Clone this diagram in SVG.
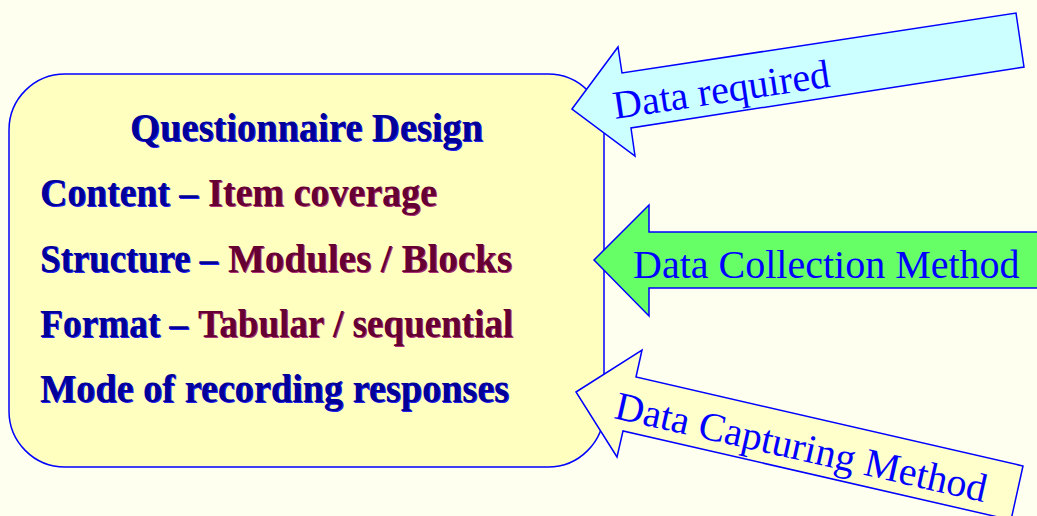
<svg xmlns="http://www.w3.org/2000/svg" width="1037" height="516" viewBox="0 0 1037 516">
<style>
.bg{fill:#FFFFF0}
.box{fill:#FFFFC0;stroke:#0000FF;stroke-width:1.5}
.arr{stroke:#0000FF;stroke-width:1.5;stroke-linejoin:miter}
.h{font-family:'Liberation Serif',serif;font-weight:bold;font-size:40px}
.sb{fill:#2222EE}
.mb{fill:#000099}
.sm{fill:#AA3377}
.mm{fill:#660033}
.al{font-family:'Liberation Serif',serif;font-size:40px;fill:#0000FF}
</style>
<rect class="bg" x="0" y="0" width="1037" height="516"/>
<g id="questionnaire-design">
<rect class="box" x="9" y="74" width="595" height="393" rx="56" ry="56"/>
<g class="h">
<text class="sb" x="131" y="142" textLength="353" lengthAdjust="spacingAndGlyphs">Questionnaire Design</text>
<text class="mb" x="130" y="141" textLength="353" lengthAdjust="spacingAndGlyphs">Questionnaire Design</text>
<text class="sb" x="41" y="207" textLength="158" lengthAdjust="spacingAndGlyphs">Content –</text>
<text class="mb" x="40" y="206" textLength="158" lengthAdjust="spacingAndGlyphs">Content –</text>
<text class="sm" x="209" y="207" textLength="229" lengthAdjust="spacingAndGlyphs">Item coverage</text>
<text class="mm" x="208" y="206" textLength="229" lengthAdjust="spacingAndGlyphs">Item coverage</text>
<text class="sb" x="41" y="273" textLength="178" lengthAdjust="spacingAndGlyphs">Structure –</text>
<text class="mb" x="40" y="272" textLength="178" lengthAdjust="spacingAndGlyphs">Structure –</text>
<text class="sm" x="229" y="273" textLength="284" lengthAdjust="spacingAndGlyphs">Modules / Blocks</text>
<text class="mm" x="228" y="272" textLength="284" lengthAdjust="spacingAndGlyphs">Modules / Blocks</text>
<text class="sb" x="41" y="338" textLength="148" lengthAdjust="spacingAndGlyphs">Format –</text>
<text class="mb" x="40" y="337" textLength="148" lengthAdjust="spacingAndGlyphs">Format –</text>
<text class="sm" x="199" y="338" textLength="315" lengthAdjust="spacingAndGlyphs">Tabular / sequential</text>
<text class="mm" x="198" y="337" textLength="315" lengthAdjust="spacingAndGlyphs">Tabular / sequential</text>
<text class="sb" x="41" y="403" textLength="469" lengthAdjust="spacingAndGlyphs">Mode of recording responses</text>
<text class="mb" x="40" y="402" textLength="469" lengthAdjust="spacingAndGlyphs">Mode of recording responses</text>
</g>
</g>
<g id="connectors">
<g id="data-required">
<polygon class="arr" fill="#CCFFFF" points="572,109 618,47 622,73 1016,13 1024,67 631,128 635,156"/>
<text class="al" transform="translate(615,119) rotate(-8.5)">Data required</text>
</g>
<g id="data-collection-method">
<polygon class="arr" fill="#66FF66" points="594,260 649,205 649,232 1040,232 1040,288 649,288 649,316"/>
<text class="al" x="633" y="278">Data Collection Method</text>
</g>
<g id="data-capturing-method">
<polygon class="arr" fill="#FFFFCC" points="576,392 642,350 636,377 1023,466 1011,520 623,431 617,457"/>
<text class="al" transform="translate(613,418) rotate(12.8)">Data Capturing Method</text>
</g>
</g>
</svg>
